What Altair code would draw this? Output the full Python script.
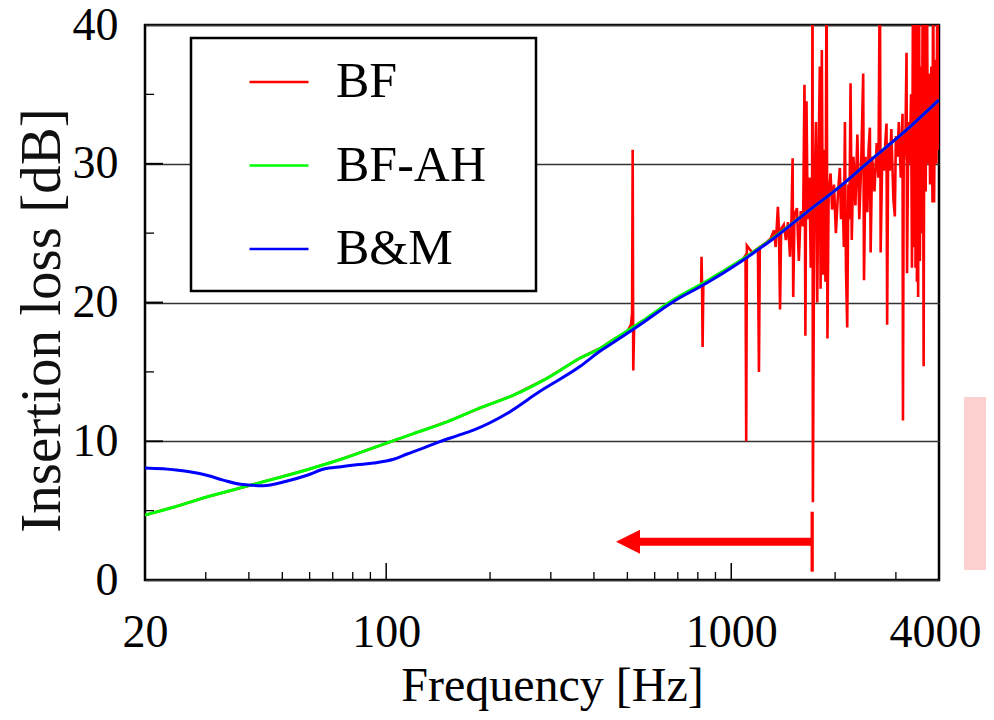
import altair as alt
import pandas as pd

# ---------------- data ----------------
green_f = [20, 24.6, 30, 40, 59, 74, 96, 120, 150, 187, 233, 293, 365, 417, 454, 544,
           679, 849, 1060, 1323, 1653, 2064, 2520, 3142, 4000]
green_v = [4.68, 5.3, 5.96, 6.8, 7.95, 8.7, 9.7, 10.55, 11.4, 12.4, 13.3, 14.55, 16.0, 16.7, 17.3, 18.55,
           20.2, 21.55, 23.0, 24.65, 26.5, 28.35, 30.2, 32.2, 34.6]

blue_f = [20, 24.6, 30, 33.7, 37.8, 44, 51, 59, 66, 74, 82, 92, 105, 115, 128, 143, 161, 179,
          224, 279, 365, 417, 454, 544, 679, 849, 1060, 1323, 1653, 2064, 2520, 3142, 4000]
blue_v = [8.07, 7.93, 7.57, 7.2, 6.9, 6.8, 7.1, 7.55, 8.0, 8.17, 8.3, 8.43, 8.7, 9.08, 9.5, 9.97, 10.4, 10.8,
          12.0, 13.6, 15.4, 16.5, 17.1, 18.4, 20.06, 21.4, 22.9, 24.6, 26.5, 28.35, 30.2, 32.2, 34.6]

red_f = [20, 24.6, 30, 40, 59, 74, 96, 120, 150, 187, 233, 293, 365, 417, 454, 500, 512, 516, 518, 520,
         523, 540, 600, 657, 710, 790, 818, 820, 823, 826, 830, 900, 1000, 1080, 1100, 1105, 1110,
         1150, 1195, 1203, 1210, 1260, 1300, 1330, 1345, 1365, 1375, 1385, 1395, 1420, 1440, 1460,
         1480, 1495, 1506, 1512, 1525, 1550, 1570, 1590, 1615, 1630, 1640, 1652, 1665, 1685, 1700,
         1715, 1720, 1724, 1740, 1760, 1775, 1790, 1806, 1815, 1830, 1845, 1860, 1875, 1889, 1900,
         1915, 1940, 1960, 1985, 2010, 2040, 2064, 2080, 2100, 2120, 2135, 2150, 2168, 2185, 2200,
         2217, 2235, 2260, 2290, 2320, 2350, 2380, 2412, 2425, 2450, 2480, 2500, 2522, 2535, 2560,
         2600, 2640, 2670, 2696, 2710, 2740, 2770, 2800, 2818, 2830, 2850, 2880, 2910, 2950, 2979,
         3000, 3030, 3060, 3100, 3136, 3145, 3160, 3200, 3221, 3232, 3260, 3290, 3320, 3340, 3365,
         3380, 3400, 3420, 3440, 3452, 3470, 3480, 3500, 3520, 3545, 3565, 3590, 3610, 3630, 3660,
         3690, 3710, 3740, 3770, 3800, 3830, 3846, 3870, 3900, 3930, 3960, 3985, 4000]
red_v = [4.68, 5.3, 5.96, 6.8, 7.95, 8.7, 9.7, 10.55, 11.4, 12.4, 13.3, 14.55, 16.0, 16.7, 17.3, 17.9, 18.4, 19.2, 31.0, 15.1,
         18.2, 18.5, 19.15, 19.95, 20.4, 21.0, 21.2, 23.3, 21.3, 16.8, 21.3, 21.9, 22.6, 23.1, 23.4, 10.0, 24.1,
         23.6, 23.9, 15.0, 24.0, 24.3, 24.6, 25.2, 24.0, 26.9, 25.2, 19.5, 25.3, 25.6, 24.5, 25.8,
         23.3, 26.1, 30.4, 20.4, 26.3, 26.8, 23.0, 26.6, 25.5, 35.7, 17.6, 34.5, 26.0, 29.0, 22.5,
         27.1, 45, 5.6, 27.2, 33.0, 20.0, 30.0, 37.0, 21.0, 38.2, 22.0, 31.0, 21.5, 45, 17.4,
         27.8, 29.3, 26.7, 28.5, 25.0, 28.0, 29.7, 26.0, 28.5, 24.0, 33.0, 22.5, 18.2, 28.5, 26.0,
         35.8, 24.5, 30.5, 27.0, 32.1, 26.0, 30.0, 36.5, 21.6, 30.5, 26.5, 31.0, 32.6, 23.6, 30.5,
         28.0, 31.5, 29.0, 45, 23.6, 31.0, 29.5, 31.8, 32.9, 18.4, 31.5, 29.5, 32.5, 27.5, 26.2,
         32.0, 30.5, 33.0, 29.0, 33.6, 11.5, 30.0, 32.5, 38.0, 22.1, 33.0, 30.0, 35.0, 22.5, 45,
         24.0, 45, 22.5, 45, 21.5, 36.0, 20.4, 45, 23.0, 37.0, 25.0, 45, 15.4, 42, 28.0,
         45, 30.0, 36.5, 28.5, 37.0, 27.2, 45, 27.2, 37.5, 30.0, 45, 31.0, 34.6]

series_names = ["BF", "BF-AH", "B&M"]
series_colors = ["#ff0000", "#00ff00", "#0000ff"]

x_ticks_labels = [20, 100, 1000, 4000]
y_ticks_labels = [0, 10, 20, 30, 40]
x_minor = [30, 40, 50, 60, 70, 80, 90, 200, 300, 400, 500, 600, 700, 800, 900, 2000, 3000]
x_major = [100, 1000]
y_minor = [5, 15, 25, 35]
y_major = [10, 20, 30]

# annotation (arrow pointing to lower frequencies, marker line)
arrow_from_f = 1716
arrow_to_f = 530
arrow_v = 2.76
arrow_head_f = 502
marker_f = 1716
marker_v = [0.6, 4.92]

# ---------------- chart ----------------
FONT = "Liberation Serif"
W, H = 794, 555

red_df = pd.DataFrame({"f": red_f, "v": red_v, "series": "BF"})
green_df = pd.DataFrame({"f": green_f, "v": green_v, "series": "BF-AH"})
blue_df = pd.DataFrame({"f": blue_f, "v": blue_v, "series": "B&M"})

xscale = alt.Scale(type="log", domain=[20, 4000], nice=False)
yscale = alt.Scale(domain=[0, 40], nice=False)

xaxis = alt.Axis(values=x_ticks_labels, format="d", grid=False, ticks=False, tickSize=0, domain=False,
                 labelFlush=False, labelOverlap=False, labelFont=FONT, labelFontSize=46,
                 labelColor="black", labelPadding=30,
                 labelOffset={"condition": {"test": "datum.value === 4000", "value": -4}, "value": 0},
                 title="Frequency [Hz]", titleFont=FONT, titleFontSize=48, titleFontWeight="normal",
                 titleColor="black", titleBaseline="alphabetic", titleAlign="center",
                 titleX=407, titleY=120)
yaxis = alt.Axis(values=y_ticks_labels, grid=True, gridColor="#333333", gridWidth=1.5,
                 ticks=False, tickSize=0, domain=False, labelFont=FONT, labelFontSize=46,
                 labelColor="black", labelPadding=27,
                 title="Insertion loss [dB]", titleFont=FONT, titleFontSize=57,
                 titleFontWeight="normal", titleColor="#111111", titleAngle=270,
                 titleBaseline="alphabetic", titleAlign="center", titleX=-86, titleY=295)

X = alt.X("f:Q", scale=xscale, axis=xaxis)
Y = alt.Y("v:Q", scale=yscale, axis=yaxis)

color = alt.Color("series:N",
                  scale=alt.Scale(domain=series_names, range=series_colors),
                  legend=alt.Legend(orient="none", legendX=103, legendY=32, title=None,
                                    symbolType="stroke", symbolSize=3481, symbolStrokeWidth=2.5,
                                    labelFont=FONT, labelFontSize=50, labelColor="black",
                                    labelOffset=26, rowPadding=33.5, clipHeight=50, padding=0,
                                    symbolOffset=0, labelLimit=400))

legend_box = alt.Chart(pd.DataFrame({"a": [0]})).mark_rect(
    fill="white", stroke="black", strokeWidth=2.5).encode(
    x=alt.value(46), x2=alt.value(391), y=alt.value(13), y2=alt.value(266))

red = alt.Chart(red_df).mark_line(strokeWidth=2.6, clip=True).encode(x=X, y=Y, color=color)
green = alt.Chart(green_df).mark_line(strokeWidth=3, interpolate="monotone", clip=True).encode(x=X, y=Y, color=color)
blue = alt.Chart(blue_df).mark_line(strokeWidth=3, interpolate="monotone", clip=True).encode(x=X, y=Y, color=color)

xminor = alt.Chart(pd.DataFrame({"f": x_minor})).mark_rule(color="black", strokeWidth=1.3).encode(
    x=X, y=alt.value(H), y2=alt.value(H - 8))
xmajor = alt.Chart(pd.DataFrame({"f": x_major})).mark_rule(color="black", strokeWidth=1.5).encode(
    x=X, y=alt.value(H), y2=alt.value(H - 17))
yminor = alt.Chart(pd.DataFrame({"v": y_minor})).mark_rule(color="black", strokeWidth=1.3).encode(
    y=Y, x=alt.value(0), x2=alt.value(9))
ymajor = alt.Chart(pd.DataFrame({"v": y_major})).mark_rule(color="black", strokeWidth=1.8).encode(
    y=Y, x=alt.value(0), x2=alt.value(18))

arrow = alt.Chart(pd.DataFrame({"f": [arrow_from_f], "f2": [arrow_to_f], "v": [arrow_v]})).mark_rule(
    color="#ff0000", strokeWidth=8).encode(x=X, x2="f2:Q", y=Y)
arrow_head = alt.Chart(pd.DataFrame({"f": [arrow_head_f], "v": [arrow_v]})).mark_point(
    shape="M -1 0 L 1 -1 L 1 1 Z", filled=True, color="#ff0000", opacity=1, size=576, strokeWidth=0
).encode(x=X, y=Y)
marker = alt.Chart(pd.DataFrame({"f": [marker_f], "v": [marker_v[0]], "v2": [marker_v[1]]})).mark_rule(
    color="#ff0000", strokeWidth=3.3).encode(x=X, y=Y, y2="v2:Q")

pink = alt.Chart(pd.DataFrame({"a": [0]})).mark_rect(color="#fdd0d0", clip=False).encode(
    x=alt.value(819), x2=alt.value(841), y=alt.value(372), y2=alt.value(545))

chart = alt.layer(
    red, green, blue, xminor, xmajor, yminor, ymajor, arrow, arrow_head, marker, legend_box, pink
).properties(
    width=W, height=H,
    padding={"left": 137, "top": 17, "right": 47, "bottom": 131},
    autosize=alt.AutoSizeParams(type="none"),
    background="white",
).configure_view(stroke="black", strokeWidth=2.5)

chart.save("out.html", embed_options={"renderer": "svg", "actions": False})
